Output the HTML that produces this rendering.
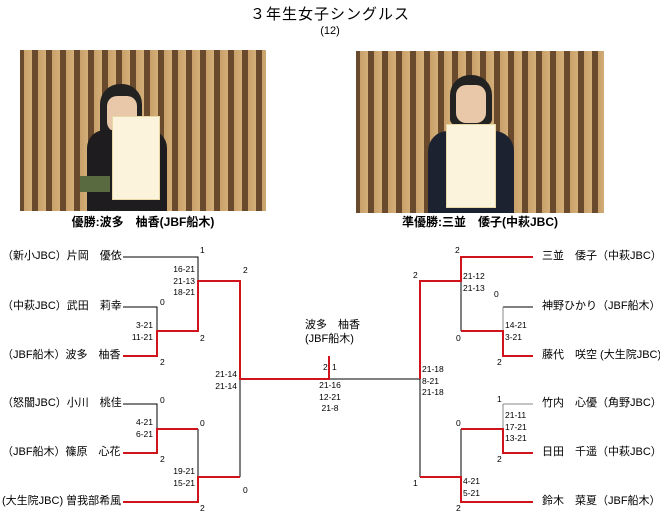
<!DOCTYPE html>
<html><head><meta charset="utf-8">
<style>
body{margin:0;width:660px;height:527px;background:#fff;position:relative;overflow:hidden;font-family:"Liberation Sans","Noto Sans CJK JP",sans-serif;color:#000}
.a{position:absolute;white-space:nowrap;line-height:1}
.n{font-size:11px}
.s{font-size:8.5px;line-height:11.5px}
.r{text-align:right}
.photo{position:absolute;background:repeating-linear-gradient(90deg,#6a4a2c 0px,#6a4a2c 4px,#c9a06a 4px,#d4ae78 12px,#6a4a2c 12px,#6a4a2c 14px);overflow:hidden}
</style></head><body>
<div class="a" style="left:0;width:660px;text-align:center;top:7px;font-size:15px;letter-spacing:1px">３年生女子シングルス</div>
<div class="a" style="left:0;width:660px;text-align:center;top:26px;font-size:11px">(12)</div>

<div class="photo" style="left:20px;top:50px;width:246px;height:161px">
 <div style="position:absolute;left:80px;top:34px;width:42px;height:52px;background:#222;border-radius:20px 20px 6px 6px"></div>
 <div style="position:absolute;left:87px;top:46px;width:30px;height:36px;background:#e8c8a8;border-radius:10px"></div>
 <div style="position:absolute;left:67px;top:80px;width:80px;height:81px;background:#1e1c1e;border-radius:18px 18px 0 0"></div>
 <div style="position:absolute;left:92px;top:66px;width:46px;height:82px;background:#fbf3dc;border:1px solid #e8d8a8"></div>
 <div style="position:absolute;left:60px;top:126px;width:30px;height:16px;background:#5a6a40"></div>
</div>
<div class="photo" style="left:356px;top:51px;width:248px;height:162px">
 <div style="position:absolute;left:94px;top:24px;width:42px;height:50px;background:#222;border-radius:20px 20px 6px 6px"></div>
 <div style="position:absolute;left:100px;top:34px;width:30px;height:38px;background:#e8c8a8;border-radius:10px"></div>
 <div style="position:absolute;left:72px;top:80px;width:86px;height:82px;background:#1c2230;border-radius:20px 20px 0 0"></div>
 <div style="position:absolute;left:90px;top:73px;width:48px;height:82px;background:#fbf3dc;border:1px solid #e8d8a8"></div>
</div>
<div class="a" style="left:20px;width:246px;text-align:center;top:216px;font-size:12px;font-weight:bold">優勝:波多　柚香(JBF船木)</div>
<div class="a" style="left:356px;width:248px;text-align:center;top:216px;font-size:12px;font-weight:bold">準優勝:三並　倭子(中萩JBC)</div>

<svg width="660" height="527" style="position:absolute;left:0;top:0">
<g stroke="#000" stroke-width="1" fill="none">
<path d="M123 257H198V281"/>
<path d="M123 307H157V331"/>
<path d="M123 404H157V429"/>
<path d="M198 429V477"/>
<path d="M240 379V477"/>
<path d="M329 379H420"/>
<path d="M420 379V477"/>
<path d="M461 281V331"/>
<path d="M461 429V477"/>
<path d="M503 307H533" /><path d="M503 307V331" stroke="#888"/>
<path d="M503 404H533" stroke="#888"/><path d="M503 404V429" stroke="#888"/>
</g>
<g stroke="#d0141c" stroke-width="2" fill="none">
<path d="M123 356H157V331H198V281H240V379H329V356"/>
<path d="M123 453H157V429H198"/>
<path d="M123 502H198V477H240"/>
<path d="M533 257H461V281H420V379"/>
<path d="M461 331H503V356H533"/>
<path d="M420 477H461V502H533"/>
<path d="M461 429H503V453H533"/>
</g>
</svg>

<div class="a n" style="left:2px;top:251px">（新小JBC）片岡　優依</div>
<div class="a n" style="left:2px;top:301px">（中萩JBC）武田　莉幸</div>
<div class="a n" style="left:2px;top:350px">（JBF船木）波多　柚香</div>
<div class="a n" style="left:2px;top:398px">（怒闇JBC）小川　桃佳</div>
<div class="a n" style="left:2px;top:447px">（JBF船木）篠原　心花</div>
<div class="a n" style="left:2px;top:496px">(大生院JBC) 曽我部希風</div>

<div class="a n" style="left:542px;top:251px">三並　倭子（中萩JBC）</div>
<div class="a n" style="left:542px;top:301px">神野ひかり（JBF船木）</div>
<div class="a n" style="left:542px;top:350px">藤代　咲空 (大生院JBC)</div>
<div class="a n" style="left:542px;top:398px">竹内　心優（角野JBC）</div>
<div class="a n" style="left:542px;top:447px">日田　千遥（中萩JBC）</div>
<div class="a n" style="left:542px;top:496px">鈴木　菜夏（JBF船木）</div>

<div class="a n" style="left:305px;top:320px">波多　柚香</div>
<div class="a n" style="left:305px;top:334px">(JBF船木)</div>

<div class="a s" style="left:200px;top:245px">1</div>
<div class="a s r" style="right:465px;top:264px">16-21<br>21-13<br>18-21</div>
<div class="a s" style="left:160px;top:297px">0</div>
<div class="a s r" style="right:507px;top:320px">3-21<br>11-21</div>
<div class="a s" style="left:200px;top:333px">2</div>
<div class="a s" style="left:160px;top:357px">2</div>
<div class="a s" style="left:243px;top:265px">2</div>
<div class="a s r" style="right:423px;top:369px">21-14<br>21-14</div>
<div class="a s" style="left:160px;top:395px">0</div>
<div class="a s r" style="right:507px;top:417px">4-21<br>6-21</div>
<div class="a s" style="left:160px;top:454px">2</div>
<div class="a s" style="left:200px;top:418px">0</div>
<div class="a s r" style="right:465px;top:466px">19-21<br>15-21</div>
<div class="a s" style="left:200px;top:503px">2</div>
<div class="a s" style="left:243px;top:485px">0</div>

<div class="a s" style="left:323px;top:362px">2</div>
<div class="a s" style="left:332px;top:362px">1</div>
<div class="a s" style="left:310px;top:380px;width:40px;text-align:center">21-16<br>12-21<br>21-8</div>

<div class="a s" style="left:413px;top:270px">2</div>
<div class="a s" style="left:422px;top:364px">21-18<br>8-21<br>21-18</div>
<div class="a s" style="left:413px;top:478px">1</div>
<div class="a s" style="left:455px;top:245px">2</div>
<div class="a s" style="left:463px;top:271px">21-12<br>21-13</div>
<div class="a s" style="left:494px;top:289px">0</div>
<div class="a s" style="left:456px;top:333px">0</div>
<div class="a s" style="left:505px;top:320px">14-21<br>3-21</div>
<div class="a s" style="left:497px;top:357px">2</div>
<div class="a s" style="left:497px;top:394px">1</div>
<div class="a s" style="left:505px;top:410px">21-11<br>17-21<br>13-21</div>
<div class="a s" style="left:497px;top:454px">2</div>
<div class="a s" style="left:456px;top:418px">0</div>
<div class="a s" style="left:463px;top:476px">4-21<br>5-21</div>
<div class="a s" style="left:456px;top:503px">2</div>
</body></html>
